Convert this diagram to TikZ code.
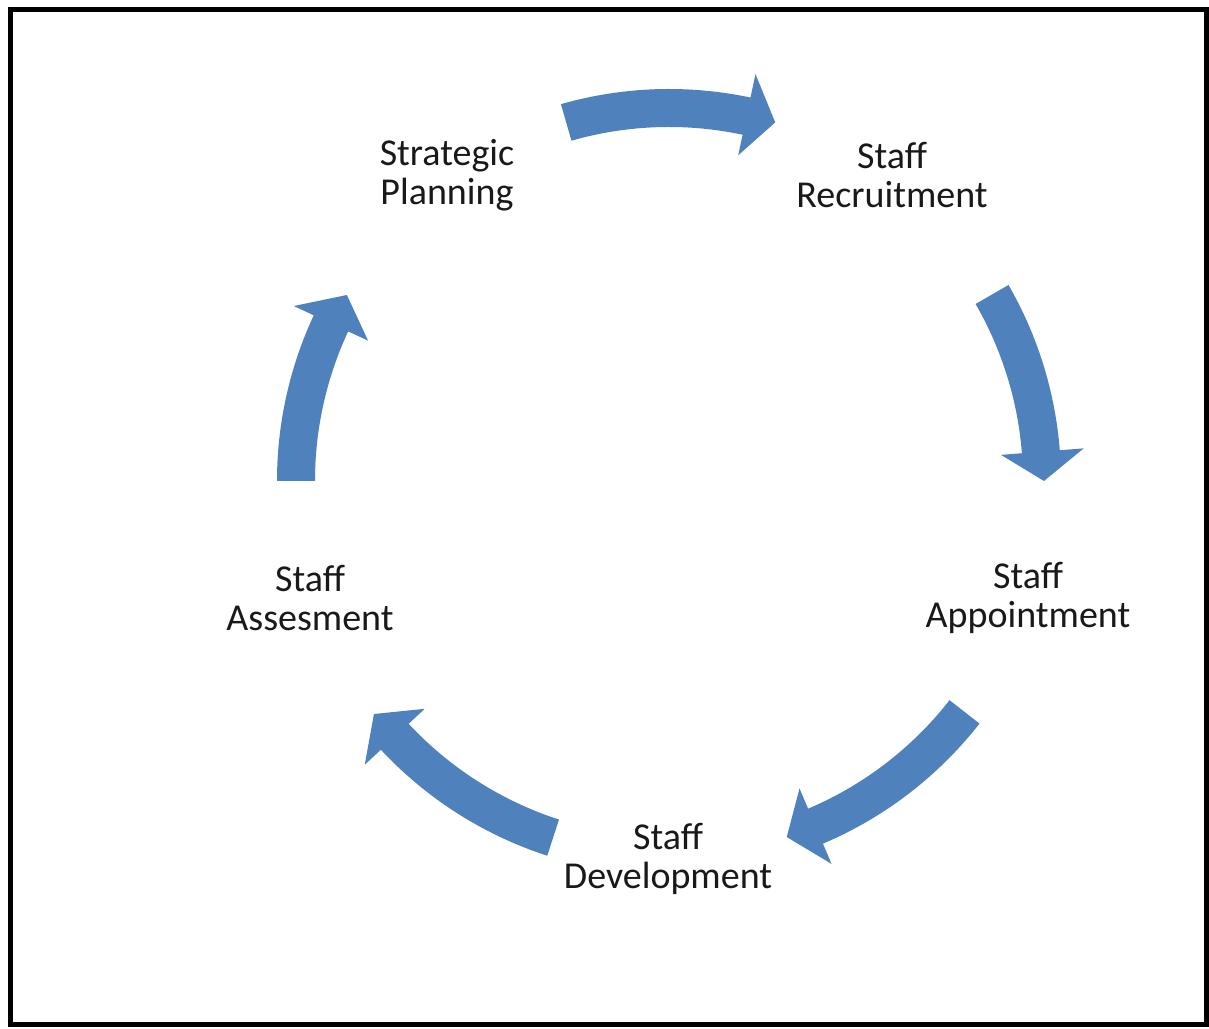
\documentclass[tikz,border=0pt]{standalone}
\usepackage{fontspec}
\setmainfont{Carlito}
\usepackage{tikz}

\definecolor{cycleblue}{RGB}{79,129,189}
\tikzset{
  stage/.style={align=center,font=\fontsize{19}{19.5}\selectfont,text=black!90},
  cyclearrow/.style={fill=cycleblue,draw=none}
}

\begin{document}
\begin{tikzpicture}[x=0.5pt,y=0.5pt]

        \useasboundingbox (0,0) rectangle (1209,1028);
        \draw[line width=2.5pt] (10,4) rectangle (1206,1018);

        \node[stage] (Planning) at (447,853) {Strategic\\Planning};
        \node[stage] (Recruitment) at (892,853) {Staff\\Recruitment};
        \node[stage] (Appointment) at (1028,430) {Staff\\Appointment};
        \node[stage] (Development) at (668,169) {Staff\\Development};
        \node[stage] (Assessment) at (310,430) {Staff\\Assesment};

        \coordinate (Hub) at (669,547);

        \begin{scope}[shift={(Hub)}]
        %%% Planning -> Recruitment
        \fill[cyclearrow] (106:392) arc[start angle=106,end angle=78,radius=392] -- (78:416) -- (73.5:374) -- (78:333) -- (78:354) arc[start angle=78,end angle=106,radius=354] -- cycle;
        %%% Recruitment -> Appointment
        \fill[cyclearrow] (30:392) arc[start angle=30,end angle=4.5,radius=392] -- (4.5:416) -- (0:375) -- (4.5:333) -- (4.5:354) arc[start angle=4.5,end angle=30,radius=354] -- cycle;
        %%% Appointment -> Development
        \fill[cyclearrow] (-38:394) arc[start angle=-38,end angle=-67,radius=394] -- (-67:416) -- (-71.7:375) -- (-67:334) -- (-67:356) arc[start angle=-67,end angle=-38,radius=356] -- cycle;
        %%% Development -> Assessment
        \fill[cyclearrow] (252:394) arc[start angle=252,end angle=223,radius=394] -- (223:416) -- (218.3:376) -- (223:334) -- (223:356) arc[start angle=223,end angle=252,radius=356] -- cycle;
        %%% Assessment -> Planning
        \fill[cyclearrow] (180:392) arc[start angle=180,end angle=155,radius=392] -- (155:414) -- (150:372) -- (155:332) -- (155:354) arc[start angle=155,end angle=180,radius=354] -- cycle;
        \end{scope}

\end{tikzpicture}
\end{document}
